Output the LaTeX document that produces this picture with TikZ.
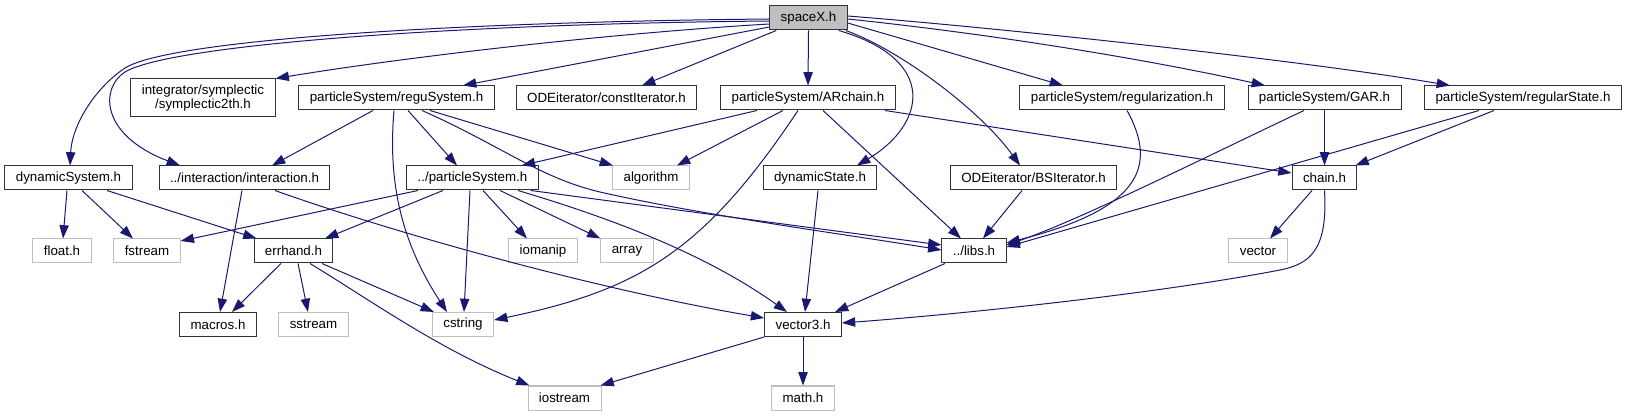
\documentclass[tikz,border=0pt]{standalone}
\usepackage{fontspec}
\setmainfont{Liberation Sans}
\usetikzlibrary{arrows.meta,calc}
\definecolor{edgeblue}{HTML}{191970}
\definecolor{hdrgray}{HTML}{BFBFBF}

\begin{document}
\begin{tikzpicture}[x=0.75pt, y=-0.75pt,
    hdr/.style={draw=black!80, fill=white, line width=0.75pt, inner xsep=8.2pt,
        inner ysep=1pt, minimum height=18pt, font=\fontsize{10}{12}\selectfont},
    sys/.style={hdr, draw=hdrgray},
    dep/.style={draw=edgeblue, line width=0.75pt, -{Triangle[length=10pt,width=7pt]}}]

    \useasboundingbox (0,0) rectangle (1627,416);

    % 最上段
    \node[hdr, fill=hdrgray] (spaceX) at (808.5,18) {spaceX.h};

    % 第2段
    \node[hdr, align=center, minimum height=28.5pt, font=\fontsize{10}{10}\selectfont]
        (integ) at (203,98) {integrator/symplectic\\/symplectic2th.h};
    \node[hdr] (regu) at (396.5,98) {particleSystem/reguSystem.h};
    \node[hdr] (constIt) at (606.5,98) {ODEiterator/constIterator.h};
    \node[hdr] (archain) at (808,98) {particleSystem/ARchain.h};
    \node[hdr] (regul) at (1122,98) {particleSystem/regularization.h};
    \node[hdr] (gar) at (1324.5,98) {particleSystem/GAR.h};
    \node[hdr] (regState) at (1523,98) {particleSystem/regularState.h};

    % 第3段
    \node[hdr] (dynSys) at (68.5,178) {dynamicSystem.h};
    \node[hdr] (inter) at (244.5,178) {../interaction/interaction.h};
    \node[hdr] (psys) at (472.5,178) {../particleSystem.h};
    \node[sys] (algo) at (651,178) {algorithm};
    \node[hdr] (dynState) at (820,178) {dynamicState.h};
    \node[hdr] (bsIt) at (1033.5,178) {ODEiterator/BSIterator.h};
    \node[hdr] (chain) at (1324.5,178) {chain.h};

    % 第4段
    \node[sys] (floatH) at (62,251) {float.h};
    \node[sys] (fstream) at (147,251) {fstream};
    \node[hdr] (errhand) at (293.5,251) {errhand.h};
    \node[sys] (iomanip) at (543,251) {iomanip};
    \node[sys] (array) at (627,251) {array};
    \node[hdr] (libs) at (974,251) {../libs.h};
    \node[sys] (vector) at (1258,251) {vector};

    % 第5段
    \node[hdr] (macros) at (218,324.5) {macros.h};
    \node[sys] (sstream) at (313.5,324.5) {sstream};
    \node[sys] (cstring) at (463,324.5) {cstring};
    \node[hdr] (vec3) at (803,324.5) {vector3.h};

    % 最下段
    \node[sys] (iostream) at (564.5,398) {iostream};
    \node[sys] (mathH) at (803,398) {math.h};

    % spaceX.h から
    \draw[dep] ($(spaceX.west)+(0,1)$) .. controls (450,22) and (170,40) .. (125,68)
        .. controls (95,88) and (72,125) .. ($(dynSys.north)+(1.5,0)$);
    \draw[dep] ($(spaceX.west)+(0,3)$) .. controls (450,24) and (170,45) .. (125,72)
        .. controls (100,88) and (100,135) .. ($(inter.north)+(-64.5,0)$);
    \draw[dep] ($(spaceX.west)+(0,6)$) .. controls (600,34) and (400,58) .. (integ.north east);
    \draw[dep] ($(spaceX.west)+(0,9)$) -- ($(regu.north)+(66.5,0)$);
    \draw[dep] ($(spaceX.south west)+(7,0)$) -- ($(constIt.north)+(35.5,0)$);
    \draw[dep] (spaceX.south) -- (archain.north);
    \draw[dep] ($(spaceX.south east)+(-9,0)$) .. controls (940,60) and (925,125) .. ($(dynState.north)+(37,0)$);
    \draw[dep] ($(spaceX.south east)+(-2,0)$) .. controls (900,50) and (980,110) .. ($(bsIt.north)+(-13.5,0)$);
    \draw[dep] ($(spaceX.east)+(0,5)$) -- ($(regul.north)+(-59,0)$);
    \draw[dep] ($(spaceX.east)+(0,1)$) .. controls (1000,35) and (1150,60) .. ($(gar.north)+(-59.5,0)$);
    \draw[dep] ($(spaceX.east)+(0,-2)$) .. controls (1000,28) and (1300,60) .. ($(regState.north)+(-73,0)$);

    % reguSystem.h から
    \draw[dep] ($(regu.south)+(-23.5,0)$) -- ($(inter.north)+(27.5,0)$);
    \draw[dep] ($(regu.south)+(11.5,0)$) -- ($(psys.north)+(-15.5,0)$);
    \draw[dep] ($(regu.south)+(-2.5,0)$) .. controls (388,180) and (400,240) .. ($(cstring.north)+(-16,0)$);
    \draw[dep] ($(regu.south)+(33.5,0)$) -- ($(algo.north)+(-38,0)$);
    \draw[dep] ($(regu.south)+(25.5,0)$) .. controls (500,145) and (540,178) .. (600,192)
        .. controls (700,215) and (850,235) .. ($(libs.west)+(0,-1)$);

    % ARchain.h から
    \draw[dep] ($(archain.south)+(-51,0)$) -- ($(psys.north east)+(-17,0)$);
    \draw[dep] ($(archain.south)+(-25,0)$) -- ($(algo.north)+(26,0)$);
    \draw[dep] ($(archain.south)+(-10,0)$) .. controls (705,250) and (640,290) .. ($(cstring.east)+(0,-4.5)$);
    \draw[dep] ($(archain.south)+(15,0)$) -- ($(libs.north)+(-13,0)$);
    \draw[dep] ($(archain.south)+(77,0)$) -- ($(chain.west)+(0,-5)$);

    % regularization.h, GAR.h, regularState.h から
    \draw[dep] ($(regul.south)+(5,0)$) .. controls (1160,170) and (1135,210) .. ($(libs.east)+(0,-8)$);
    \draw[dep] ($(gar.south)+(-20.5,0)$) .. controls (1220,150) and (1080,220) .. ($(libs.east)+(0,-6)$);
    \draw[dep] (gar.south) -- (chain.north);
    \draw[dep] ($(regState.south)+(-44,0)$) -- ($(libs.east)+(0,-4)$);
    \draw[dep] ($(regState.south)+(-29,0)$) -- ($(chain.north east)+(-2,0)$);

    % 第3段から
    \draw[dep] ($(dynSys.south)+(-1.5,0)$) -- ($(floatH.north)+(1,0)$);
    \draw[dep] ($(dynSys.south)+(13.5,0)$) -- ($(fstream.north)+(-14,0)$);
    \draw[dep] ($(dynSys.south)+(38.5,0)$) -- ($(errhand.north west)+(3,0)$);
    \draw[dep] ($(inter.south)+(-2.5,0)$) -- ($(macros.north)+(2,0)$);
    \draw[dep] ($(inter.south)+(30.5,0)$) .. controls (400,235) and (600,290) .. ($(vec3.west)+(0,-6.5)$);
    \draw[dep] ($(psys.south)+(-54.5,0)$) -- ($(fstream.east)+(0,-10)$);
    \draw[dep] ($(psys.south)+(-29.5,0)$) -- ($(errhand.north)+(31.5,0)$);
    \draw[dep] ($(psys.south)+(-2.5,0)$) -- ($(cstring.north)+(1,0)$);
    \draw[dep] ($(psys.south)+(10.5,0)$) -- ($(iomanip.north)+(-16,0)$);
    \draw[dep] ($(psys.south)+(27.5,0)$) -- (array.north west);
    \draw[dep] ($(psys.south)+(45.5,0)$) .. controls (600,215) and (700,250) .. ($(vec3.north)+(-16,0)$);
    \draw[dep] ($(psys.south east)+(-8,0)$) -- ($(libs.west)+(0,-6)$);
    \draw[dep] ($(dynState.south)+(-2,0)$) -- ($(vec3.north)+(2,0)$);
    \draw[dep] ($(bsIt.south)+(-11.5,0)$) -- ($(libs.north)+(9,0)$);
    \draw[dep] ($(chain.south)+(-12.5,0)$) -- ($(vector.north)+(12,0)$);
    \draw[dep] (chain.south) .. controls (1328,250) and (1310,264) .. (1280,270)
        .. controls (1150,295) and (950,315) .. ($(vec3.east)+(0,-1.5)$);

    % 第4段から
    \draw[dep] ($(libs.south)+(-29,0)$) -- ($(vec3.north)+(32,0)$);
    \draw[dep] ($(errhand.south)+(-12.5,0)$) -- ($(macros.north)+(14,0)$);
    \draw[dep] ($(errhand.south)+(4.5,0)$) -- ($(sstream.north)+(-5.5,0)$);
    \draw[dep] ($(errhand.south)+(28.5,0)$) -- ($(cstring.north west)+(2,0)$);
    \draw[dep] ($(errhand.south)+(16.5,0)$) .. controls (370,300) and (440,350) .. ($(iostream.north west)+(2,0)$);

    % vector3.h から
    \draw[dep] (vec3.south west) -- ($(iostream.north east)+(-1,0)$);
    \draw[dep] (vec3.south) -- (mathH.north);

\end{tikzpicture}
\end{document}
